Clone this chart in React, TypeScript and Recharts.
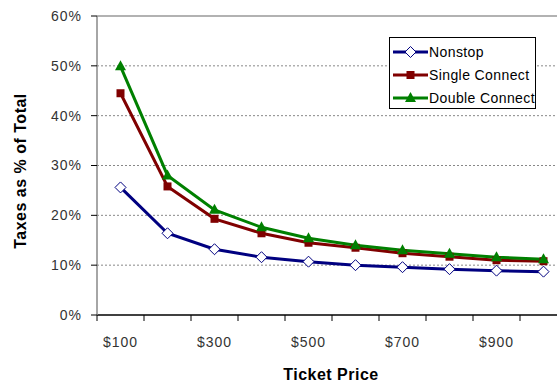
import { LineChart, Line, XAxis, YAxis, CartesianGrid, ReferenceLine, Legend } from "recharts";

const prices = ["$100", "$200", "$300", "$400", "$500", "$600", "$700", "$800", "$900", "$1000"];
const nonstop = [0.256, 0.164, 0.132, 0.116, 0.107, 0.1, 0.096, 0.092, 0.089, 0.087];
const singleConnect = [0.445, 0.258, 0.193, 0.164, 0.145, 0.135, 0.124, 0.117, 0.11, 0.108];
const doubleConnect = [0.499, 0.28, 0.211, 0.176, 0.154, 0.14, 0.13, 0.123, 0.116, 0.112];
const yTicks = [0, 0.1, 0.2, 0.3, 0.4, 0.5, 0.6];

const data = prices.map((p, i) => ({
  price: p,
  nonstop: nonstop[i],
  single: singleConnect[i],
  double: doubleConnect[i],
}));

const NAVY = "#000080";
const MAROON = "#800000";
const GREEN = "#008000";
const FONT = "'Liberation Sans', Arial, sans-serif";

const Diamond = ({ cx, cy }: any) =>
  cx == null ? null : (
    <path d={`M${cx},${cy - 5.5}L${cx + 5.5},${cy}L${cx},${cy + 5.5}L${cx - 5.5},${cy}Z`} fill="#fff" stroke={NAVY} strokeWidth={1} />
  );
const Square = ({ cx, cy }: any) =>
  cx == null ? null : <rect x={cx - 4} y={cy - 4} width={8} height={8} fill={MAROON} />;
const Triangle = ({ cx, cy }: any) =>
  cx == null ? null : <path d={`M${cx},${cy - 6}L${cx + 5.5},${cy + 4}L${cx - 5.5},${cy + 4}Z`} fill={GREEN} />;

const XTick = ({ x, y, index, payload }: any) => (
  <g>
    <line x1={x - 23.5} x2={x - 23.5} y1={y} y2={y + 6} stroke="#000" strokeWidth={1} />
    {index === prices.length - 1 && <line x1={x + 23.5} x2={x + 23.5} y1={y} y2={y + 6} stroke="#000" />}
    {index % 2 === 0 && (
      <text x={x} y={y + 32} textAnchor="middle" fontSize={14} letterSpacing={1} fill="#333" fontFamily={FONT}>
        {payload.value}
      </text>
    )}
  </g>
);

const legendItems = [
  { name: "Nonstop", color: NAVY, Marker: Diamond },
  { name: "Single Connect", color: MAROON, Marker: Square },
  { name: "Double Connect", color: GREEN, Marker: Triangle },
];

const LegendBox = () => (
  <div style={{ border: "1px solid #000", background: "#fff", width: 147, height: 72, boxSizing: "border-box", padding: "2px 0 0 2px" }}>
    {legendItems.map(({ name, color, Marker }) => (
      <div key={name} style={{ display: "flex", alignItems: "center", height: 23, fontFamily: FONT, fontSize: 14, letterSpacing: 0.4, color: "#000", whiteSpace: "nowrap" }}>
        <svg width={37} height={14}>
          <line x1={1} x2={36} y1={7} y2={7} stroke={color} strokeWidth={3} />
          <Marker cx={18.5} cy={7} />
        </svg>
        <span>{name}</span>
      </div>
    ))}
  </div>
);

export default function App() {
  return (
    <div style={{ position: "absolute", top: 0, left: 0, width: 557, height: 383, overflow: "hidden", background: "#fff" }}>
      <LineChart width={570} height={383} data={data} margin={{ top: 16, right: 3, left: 0, bottom: 0 }}>
        <CartesianGrid vertical={false} horizontalValues={[0.1, 0.2, 0.3, 0.4, 0.5]} stroke="#888" strokeDasharray="2 2" />
        <ReferenceLine y={0.6} stroke="#999" strokeWidth={1.5} />
        <XAxis
          dataKey="price"
          interval={0}
          padding={{ left: 23.5, right: 23.5 }}
          tickLine={false}
          tickSize={0}
          tickMargin={0}
          tick={<XTick />}
          axisLine={{ stroke: "#000", strokeWidth: 1.5 }}
          height={68}
          label={{
            content: () => (
              <text x={331} y={380} textAnchor="middle" fontSize={16} letterSpacing={0.5} fontWeight="bold" fontFamily={FONT} fill="#000">
                Ticket Price
              </text>
            ),
          }}
        />
        <YAxis
          width={97}
          domain={[0, 0.6]}
          ticks={yTicks}
          interval={0}
          tickFormatter={(v) => `${Math.round(v * 100)}%`}
          tick={{ fontSize: 14, fill: "#333", fontFamily: FONT, letterSpacing: 1 }}
          tickSize={6}
          tickMargin={9}
          tickLine={{ stroke: "#000" }}
          axisLine={{ stroke: "#888", strokeWidth: 1.5 }}
          label={{
            content: () => (
              <text x={22} y={171} transform="rotate(-90, 22, 171)" textAnchor="middle" dominantBaseline="middle" fontSize={16} letterSpacing={0.5} fontWeight="bold" fontFamily={FONT} fill="#000">
                Taxes as % of Total
              </text>
            ),
          }}
        />
        <Legend
          layout="vertical"
          verticalAlign="middle"
          align="center"
          content={<LegendBox />}
          wrapperStyle={{ position: "absolute", top: 37, left: 389, width: 147 }}
        />
        <Line type="linear" dataKey="nonstop" name="Nonstop" stroke={NAVY} strokeWidth={3} dot={<Diamond />} activeDot={false} isAnimationActive={false} />
        <Line type="linear" dataKey="single" name="Single Connect" stroke={MAROON} strokeWidth={3} dot={<Square />} activeDot={false} isAnimationActive={false} />
        <Line type="linear" dataKey="double" name="Double Connect" stroke={GREEN} strokeWidth={3} dot={<Triangle />} activeDot={false} isAnimationActive={false} />
      </LineChart>
    </div>
  );
}
